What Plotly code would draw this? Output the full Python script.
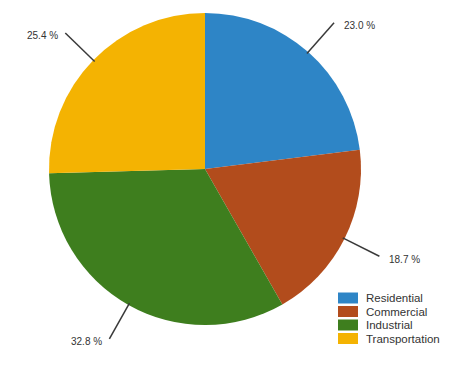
import math
import plotly.graph_objects as go

categories = ["Residential", "Commercial", "Industrial", "Transportation"]
shares = [23.0, 18.7, 32.8, 25.4]
colors = ["#2E85C6", "#B24C1C", "#3E7E1E", "#F4B302"]

W, H = 472, 370
OFF = 8  # page body margin offset


def px(x):
    return (x - OFF) / W


def py(y):
    return 1 - (y - OFF) / H


# pie placement in screenshot pixels
cx, cy, r = 205, 169, 156
dom_x = [px(cx - r), px(cx + r)]
dom_y = [py(cy + r), py(cy - r)]

fig = go.Figure(go.Pie(
    labels=categories, values=shares, sort=False, direction="clockwise",
    rotation=0, textinfo="none", hoverinfo="label+percent",
    marker=dict(colors=colors, line=dict(width=0)),
    domain=dict(x=dom_x, y=dom_y), showlegend=False,
))

font = "Liberation Sans, Arial, sans-serif"
shapes, annotations = [], []
total = sum(shares)
cum = 0.0
for v in shares:
    mid = (cum + v / 2) / total * 2 * math.pi
    cum += v
    sx, sy = cx + (r - 2) * math.sin(mid), cy - (r - 2) * math.cos(mid)
    ex, ey = cx + (r + 39) * math.sin(mid), cy - (r + 39) * math.cos(mid)
    shapes.append(dict(type="line", xref="paper", yref="paper",
                       x0=px(sx), y0=py(sy), x1=px(ex), y1=py(ey),
                       line=dict(color="#3a3a3a", width=1.5)))
    right = math.sin(mid) >= 0
    annotations.append(dict(
        xref="paper", yref="paper", x=px(ex + (8 if right else -5)), y=py(ey + 3),
        text=f"{v:.1f} %", showarrow=False,
        xanchor="left" if right else "right", yanchor="middle",
        font=dict(family=font, size=10, color="#333333"),
    ))

# legend drawn as swatches + labels
lx, ly, step = 338, 298, 13.5
for i, (c, col) in enumerate(zip(categories, colors)):
    yc = ly + i * step
    shapes.append(dict(type="rect", xref="paper", yref="paper",
                       x0=px(lx), x1=px(lx + 20), y0=py(yc - 5.5), y1=py(yc + 5.5),
                       fillcolor=col, line=dict(width=0)))
    annotations.append(dict(xref="paper", yref="paper", x=px(lx + 27), y=py(yc),
                            text=c, showarrow=False, xanchor="left", yanchor="middle",
                            borderpad=0,
                            font=dict(family=font, size=11.5, color="#333333")))

fig.update_layout(
    width=W, height=H, margin=dict(l=0, r=0, t=0, b=0),
    paper_bgcolor="white", plot_bgcolor="white",
    shapes=shapes, annotations=annotations, showlegend=False,
)

fig.write_html("out.html")
